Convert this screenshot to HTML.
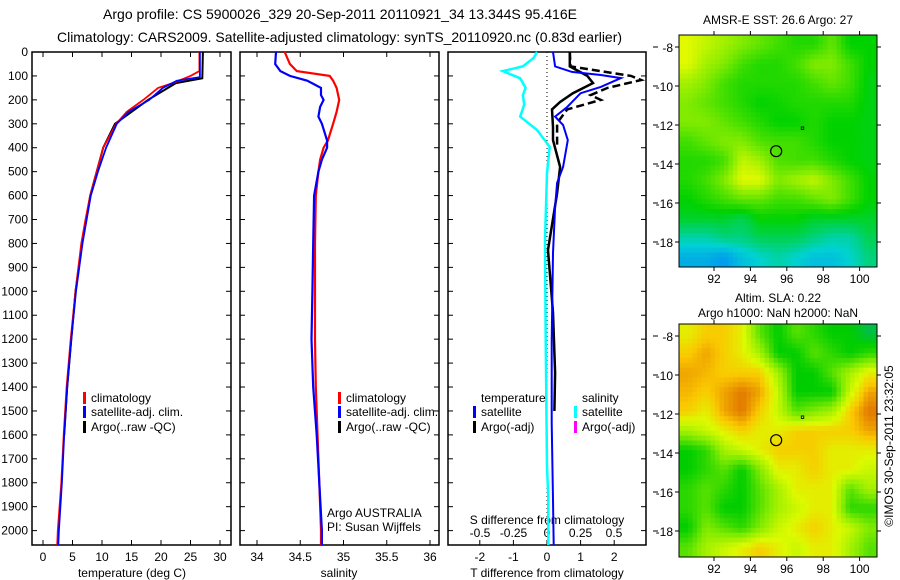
<!DOCTYPE html>
<html><head><meta charset="utf-8"><style>
body{margin:0;background:#fff;}
svg{display:block;font-family:"Liberation Sans",sans-serif;}
</style></head><body>
<svg id="fig" width="900" height="580" viewBox="0 0 900 580">
<text x="340" y="19" font-size="14" text-anchor="middle" textLength="474" lengthAdjust="spacingAndGlyphs">Argo profile: CS 5900026_329 20-Sep-2011 20110921_34 13.344S 95.416E</text>
<text x="57" y="42" font-size="14" text-anchor="start" textLength="565" lengthAdjust="spacingAndGlyphs">Climatology: CARS2009. Satellite-adjusted climatology: synTS_20110920.nc (0.83d earlier)</text>
<g id="g"></g>
</svg>
<script>
// ---- data ----
const depthTicks=[0,100,200,300,400,500,600,700,800,900,1000,1100,1200,1300,1400,1500,1600,1700,1800,1900,2000];
const tempTicks=[0,5,10,15,20,25,30];
const salTicks=[34,34.5,35,35.5,36];
const salTickLabels=["34","34.5","35","35.5","36"];
const tdTicks=[-2,-1,0,1,2];
const sdTicks=[-0.5,-0.25,0,0.25,0.5];
const sdTickLabels=["-0.5","-0.25","0","0.25","0.5"];
const tClimD=[0,80,100,130,150,200,250,300,400,500,600,700,800,900,1000,1200,1400,1600,1800,2000,2060];
const tClimV=[26.5,26.5,25,22,19.5,17,14.2,12.4,10.2,9.1,8,7.2,6.5,6,5.5,4.7,4,3.5,3.1,2.5,2.4];
const tSatD=[0,105,120,150,200,250,300,400,500,600,800,1000,1200,1400,1600,1800,2000,2060];
const tSatV=[26.6,26.6,22.7,20.3,18,14.5,12.5,10.7,9.3,8.1,6.7,5.6,4.8,4.1,3.6,3.2,2.7,2.6];
const tArgoD=[0,110,130,200,300,400,600,800,1000,1200,1400,1600];
const tArgoV=[27.1,27.0,22.5,17.8,12.2,10.2,8,6.6,5.5,4.8,4.1,3.6];
const sClimD=[0,50,80,100,120,150,200,250,300,370,400,450,500,600,800,1000,1200,1400,1800,2000,2060];
const sClimV=[34.32,34.38,34.46,34.84,34.88,34.92,34.95,34.92,34.88,34.82,34.77,34.73,34.71,34.68,34.67,34.67,34.67,34.68,34.72,34.74,34.74];
const sSatD=[0,50,80,100,120,150,180,200,230,270,300,370,400,450,500,600,800,1000,1200,1400,1600,2000,2060];
const sSatV=[34.22,34.21,34.27,34.38,34.58,34.74,34.74,34.77,34.73,34.71,34.75,34.81,34.81,34.75,34.71,34.66,34.65,34.64,34.63,34.65,34.69,34.75,34.75];
const dTSatD=[0,60,83,96,109,146,172,230,270,305,368,480,547,648,840,1203,1550,1872,2060];
const dTSatV=[0.18,0.24,0.74,1.6,2.2,1.6,1.0,0.6,0.24,0.48,0.62,0.48,0.3,0.24,0.18,0.14,0.14,0.18,0.2];
const dTArgoD=[0,60,100,130,172,209,240,313,368,480,590,827,1090,1341,1500];
const dTArgoV=[0.68,0.68,1.2,1.37,0.77,0.39,0.15,0.18,0.18,0.39,0.3,0.03,0.18,0.24,0.22];
const dTRawD=[0,60,100,117,150,180,200,240,297,400];
const dTRawV=[0.68,0.7,2.5,2.8,1.8,1.3,1.6,0.6,0.3,0.3];
const dSSatD=[0,25,60,80,110,150,180,220,270,326,396,506,786,1203,1734,1860,2060];
const dSSatV=[-0.075,-0.1,-0.18,-0.33,-0.2,-0.16,-0.18,-0.17,-0.2,-0.075,0.02,0,-0.015,-0.01,0,0.01,0.01];
const lonTicks=[92,94,96,98,100];
const latTicks=[-8,-10,-12,-14,-16,-18];
const sstGrid=[
[0.85,0.8,0.75,0.7,0.65,0.6,0.55,0.55,0.65,0.5,0.5],
[0.85,0.75,0.7,0.6,0.55,0.55,0.6,0.7,0.7,0.6,0.5],
[0.75,0.7,0.6,0.55,0.55,0.55,0.55,0.6,0.65,0.6,0.48],
[0.7,0.65,0.6,0.55,0.5,0.52,0.55,0.55,0.55,0.55,0.48],
[0.7,0.7,0.65,0.6,0.55,0.5,0.5,0.55,0.5,0.5,0.48],
[0.6,0.65,0.7,0.7,0.62,0.6,0.6,0.55,0.5,0.5,0.48],
[0.55,0.55,0.6,0.8,0.75,0.62,0.6,0.6,0.55,0.5,0.48],
[0.55,0.6,0.7,0.85,0.85,0.7,0.75,0.8,0.7,0.6,0.5],
[0.5,0.55,0.6,0.65,0.65,0.6,0.6,0.65,0.7,0.6,0.5],
[0.45,0.45,0.45,0.4,0.5,0.5,0.5,0.45,0.45,0.45,0.45],
[0.3,0.3,0.35,0.35,0.4,0.4,0.4,0.35,0.3,0.3,0.4],
[0.15,0.15,0.1,0.2,0.25,0.3,0.25,0.2,0.2,0.25,0.35]];
const slaGrid=[
[0.8,0.85,0.85,0.8,0.6,0.5,0.6,0.55,0.5,0.5,0.45],
[0.85,0.9,0.85,0.8,0.7,0.5,0.5,0.6,0.55,0.5,0.55],
[0.9,0.88,0.85,0.85,0.85,0.7,0.5,0.5,0.6,0.7,0.8],
[0.88,0.85,0.9,0.95,0.9,0.75,0.5,0.5,0.5,0.75,0.9],
[0.85,0.8,0.9,0.95,0.85,0.75,0.6,0.65,0.7,0.85,0.95],
[0.7,0.75,0.8,0.85,0.8,0.8,0.85,0.85,0.85,0.85,0.9],
[0.5,0.55,0.7,0.75,0.8,0.85,0.85,0.85,0.8,0.8,0.8],
[0.5,0.55,0.6,0.5,0.65,0.8,0.8,0.85,0.8,0.8,0.75],
[0.55,0.6,0.55,0.5,0.6,0.7,0.8,0.8,0.8,0.6,0.7],
[0.55,0.6,0.5,0.5,0.6,0.7,0.75,0.8,0.8,0.55,0.55],
[0.5,0.65,0.6,0.55,0.65,0.75,0.8,0.85,0.8,0.75,0.65],
[0.6,0.7,0.75,0.8,0.85,0.8,0.75,0.8,0.8,0.7,0.6]];
const argoLon=95.416, argoLat=-13.344;

// ---- helpers ----
const NS="http://www.w3.org/2000/svg";
const G=document.getElementById('g');
function el(tag,attrs,parent){const e=document.createElementNS(NS,tag);for(const k in attrs)e.setAttribute(k,attrs[k]);(parent||G).appendChild(e);return e;}
function txt(x,y,s,size,anchor,name){const t=el('text',{x:x,y:y,'font-size':size,'text-anchor':anchor||'middle'});t.textContent=s;


return t;}
const TOP=52,BOT=545;
const yD=d=>TOP+d*0.2393;
const xT=v=>43+v*5.9;
const xS=v=>257+(v-34)*86.5;
const xTD=v=>547+v*33.6;
const xSD=v=>547+v*134;
function line(xs,ds,xf,color,w,name,dash){const pts=xs.map((v,i)=>xf(v).toFixed(1)+','+yD(ds[i]).toFixed(1)).join(' ');
const p=el('polyline',{points:pts,fill:'none',stroke:color,'stroke-width':w});if(dash)p.setAttribute('stroke-dasharray',dash);


return p;}
function panel(x0,x1,name){const r=el('rect',{x:x0,y:TOP,width:x1-x0,height:BOT-TOP,fill:'none',stroke:'#000','stroke-width':1.5});


depthTicks.forEach(d=>{el('line',{x1:x0,x2:x0+5,y1:yD(d),y2:yD(d),stroke:'#000'});el('line',{x1:x1-5,x2:x1,y1:yD(d),y2:yD(d),stroke:'#000'});});}
function xticks(ticks,labels,xf,y,name,top){ticks.forEach((t,i)=>{const x=xf(t);
el('line',{x1:x,x2:x,y1:BOT,y2:BOT-5,stroke:'#000'});if(top)el('line',{x1:x,x2:x,y1:TOP,y2:TOP+5,stroke:'#000'});
txt(x,y,labels[i],12,'middle',name);});}

panel(32,231,'temperature-panel');panel(240,439,'salinity-panel');panel(448,646,'difference-panel');
depthTicks.forEach(d=>txt(28,yD(d)+4,String(d),12,'end','depth-tick-label'));
xticks(tempTicks,tempTicks.map(String),xT,561,'temperature-tick-label',true);
xticks(salTicks,salTickLabels,xS,561,'salinity-tick-label',true);
xticks(tdTicks,tdTicks.map(String),xTD,561,'t-diff-tick-label',false);
sdTicks.forEach((t,i)=>txt(xSD(t),537,sdTickLabels[i],12,'middle','s-diff-tick-label'));
txt(132,577,'temperature (deg C)',12,'middle','temperature-axis-title');
txt(339,577,'salinity',12,'middle','salinity-axis-title');
txt(547,577,'T difference from climatology',12,'middle','t-diff-axis-title');
txt(547,524,'S difference from climatology',12,'middle','s-diff-axis-title');
const z=el('line',{x1:xTD(0),x2:xTD(0),y1:TOP,y2:BOT,stroke:'#000','stroke-dasharray':'1,3'});



line(tArgoV,tArgoD,xT,'#000',2,'temp-argo-line');
line(tClimV,tClimD,xT,'#f00',1.8,'temp-climatology-line');
line(tSatV,tSatD,xT,'#00f',1.8,'temp-satellite-line');
line(sClimV,sClimD,xS,'#f00',2.2,'salinity-climatology-line');
line(sSatV,sSatD,xS,'#00f',2.2,'salinity-satellite-line');
line(dSSatV,dSSatD,xSD,'#0ff',2.5,'s-diff-satellite-line');
line(dTRawV,dTRawD,xTD,'#000',2.5,'t-diff-argo-raw-line','8,4');
line(dTArgoV,dTArgoD,xTD,'#000',2.5,'t-diff-argo-line');
line(dTSatV,dTSatD,xTD,'#00f',2,'t-diff-satellite-line');

function leg(x,y,c,s,name){const r=el('rect',{x:x,y:y-10,width:3,height:12,fill:c});


txt(x+8,y,s,12,'start',name);}
[83,338].forEach((x,k)=>{const p=k?'salinity':'temp';
leg(x,402,'#f00','climatology',p+'-legend-climatology');
leg(x,416,'#00f','satellite-adj. clim.',p+'-legend-satellite');
leg(x,431,'#000','Argo(..raw -QC)',p+'-legend-argo');});
txt(481,402,'temperature',12,'start','legend-temperature-header');
txt(582,402,'salinity',12,'start','legend-salinity-header');
leg(473,416,'#00f','satellite','dt-legend-satellite');
leg(473,431,'#000','Argo(-adj)','dt-legend-argo');
leg(574,416,'#0ff','satellite','ds-legend-satellite');
leg(574,431,'#f0f','Argo(-adj)','ds-legend-argo');
txt(327,517,'Argo AUSTRALIA',12,'start','credit-argo-australia');
txt(327,531,'PI: Susan Wijffels',12,'start','credit-pi');

function cmapSST(v){const s=[[0,[0,120,255]],[0.25,[0,210,210]],[0.5,[0,210,0]],[0.7,[130,235,0]],[0.85,[225,250,0]],[1,[240,140,0]]];return interp(s,v);}
function cmapSLA(v){const s=[[0.45,[0,190,70]],[0.5,[0,205,0]],[0.65,[130,235,0]],[0.78,[220,250,0]],[0.86,[250,200,0]],[0.95,[225,120,0]],[1,[215,100,0]]];return interp(s,v);}
function interp(s,v){if(v<=s[0][0])return 'rgb('+s[0][1]+')';for(let i=1;i<s.length;i++){if(v<=s[i][0]){const f=(v-s[i-1][0])/(s[i][0]-s[i-1][0]);const a=s[i-1][1],b=s[i][1];return 'rgb('+a.map((c,j)=>Math.round(c+(b[j]-c)*f)).join(',')+')';}}return 'rgb('+s[s.length-1][1]+')';}
function sample(grid,fr,fc){const nr=grid.length,nc=grid[0].length;
const r=Math.min(Math.max(fr,0),nr-1),c=Math.min(Math.max(fc,0),nc-1);
const r0=Math.floor(r),c0=Math.floor(c),r1=Math.min(r0+1,nr-1),c1=Math.min(c0+1,nc-1);const dr=r-r0,dc=c-c0;
return grid[r0][c0]*(1-dr)*(1-dc)+grid[r0][c1]*(1-dr)*dc+grid[r1][c0]*dr*(1-dc)+grid[r1][c1]*dr*dc;}
function map(y0,y1,grid,cmap,name){const x0=679,x1=877;
const lonX=v=>714+(v-92)*18.2;const latY=v=>y0+12+(-8-v)*19.5;
const nr=grid.length,nc=grid[0].length;const SUB=4;const cw=(x1-x0)/(nc*SUB),ch=(y1-y0)/(nr*SUB);
for(let r=0;r<nr*SUB;r++)for(let c=0;c<nc*SUB;c++){const v=sample(grid,(r+0.5)/SUB-0.5,(c+0.5)/SUB-0.5);
const e=el('rect',{x:(x0+c*cw).toFixed(2),y:(y0+r*ch).toFixed(2),width:(cw+0.5).toFixed(2),height:(ch+0.5).toFixed(2),fill:cmap(v)});

}
const b=el('rect',{x:x0,y:y0,width:x1-x0,height:y1-y0,fill:'none',stroke:'#000','stroke-width':1});


lonTicks.forEach(l=>{el('line',{x1:lonX(l),x2:lonX(l),y1:y1,y2:y1+4,stroke:'#000'});el('line',{x1:lonX(l),x2:lonX(l),y1:y0,y2:y0-4,stroke:'#000'});txt(lonX(l),y1+16,String(l),12,'middle',name+'-lon-label');});
latTicks.forEach(l=>{el('line',{x1:x0,x2:x0-4,y1:latY(l),y2:latY(l),stroke:'#000'});el('line',{x1:x1,x2:x1+4,y1:latY(l),y2:latY(l),stroke:'#000'});el('line',{x1:653,x2:658,y1:latY(l),y2:latY(l),stroke:'#000'});txt(x0-6,latY(l)+5,String(l),12,'end',name+'-lat-label');});
const m=el('circle',{cx:lonX(argoLon),cy:latY(argoLat),r:5.5,fill:'none',stroke:'#000','stroke-width':1.2});


el('rect',{x:lonX(96.85)-1,y:latY(-12.15)-1,width:2.5,height:2.5,fill:'none',stroke:'#000','stroke-width':0.8});
}
map(35,267,sstGrid,cmapSST,'sst-map');
map(324,557,slaGrid,cmapSLA,'sla-map');
txt(778,24,'AMSR-E SST: 26.6 Argo: 27',12,'middle','sst-map-title');
txt(778,302,'Altim. SLA: 0.22',12,'middle','sla-map-title');
txt(778,317,'Argo h1000: NaN h2000: NaN',12,'middle','sla-map-subtitle');
const c=txt(0,0,'©IMOS 30-Sep-2011 23:32:05',12,'middle','copyright-timestamp');
c.setAttribute('transform','translate(893,446) rotate(-90)');
</script>
</body></html>
